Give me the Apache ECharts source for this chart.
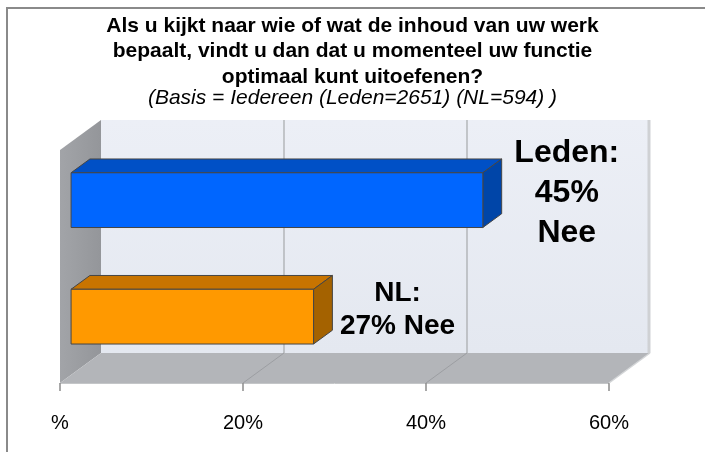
<!DOCTYPE html>
<html>
<head>
<meta charset="utf-8">
<script src="https://cdn.jsdelivr.net/npm/echarts@6/dist/echarts.min.js"></script>
<style>
  html, body { margin: 0; padding: 0; background: #fff; }
  #chart { width: 705px; height: 452px; }
</style>
</head>
<body>
<div id="chart"></div>
<script>
  // data
  const categories = ['Leden', 'NL'];
  const values = [45, 26.5];
  const barLabels = ['Leden:\n45%\nNee', 'NL:\n27% Nee'];
  const xTicks = [0, 20, 40, 60];
  const xTickLabels = ['%', '20%', '40%', '60%'];

  // 3d look: offset of the back wall from the front plane
  const DEPTH = [41, -30];
  const BAR_FRONT = 0.27;
  const BAR_BACK = 0.73;
  const faceColors = [
    { front: '#0066ff', top: '#0050c6', side: '#0045a8' },
    { front: '#ff9900', top: '#c87400', side: '#a46200' }
  ];
  const labelFont = [32, 28];
  const labelLine = [40, 33];
  const FONT = '"Liberation Sans", Arial, sans-serif';

  function shift(p, f) {
    return [p[0] + DEPTH[0] * f, p[1] + DEPTH[1] * f];
  }

  function renderWalls(params, api) {
    const cs = params.coordSys;
    const left = api.coord([xTicks[0], 0])[0];
    const right = api.coord([xTicks[xTicks.length - 1], 0])[0];
    const top = cs.y;
    const bottom = cs.y + cs.height;
    const children = [];

    // back wall
    children.push({
      type: 'polygon',
      shape: { points: [shift([left, top], 1), shift([right, top], 1), shift([right, bottom], 1), shift([left, bottom], 1)] },
      style: {
        fill: new echarts.graphic.LinearGradient(0, 0, 0, 1, [
          { offset: 0, color: '#eceff6' },
          { offset: 1, color: '#e4e8f0' }
        ])
      }
    });
    // left side wall
    children.push({
      type: 'polygon',
      shape: { points: [[left, top], shift([left, top], 1), shift([left, bottom], 1), [left, bottom]] },
      style: {
        fill: new echarts.graphic.LinearGradient(0, 0, 1, 0, [
          { offset: 0, color: '#a2a4a8' },
          { offset: 1, color: '#94969a' }
        ])
      }
    });
    // floor
    children.push({
      type: 'polygon',
      shape: { points: [[left, bottom], shift([left, bottom], 1), shift([right, bottom], 1), [right, bottom]] },
      style: { fill: '#b3b5b9' }
    });
    // right edge of the back wall
    children.push({
      type: 'line',
      shape: { x1: right + DEPTH[0] - 1, y1: top + DEPTH[1], x2: right + DEPTH[0] - 1, y2: bottom + DEPTH[1] },
      style: { stroke: '#cfd1d4', lineWidth: 3 }
    });
    children.push({
      type: 'line',
      shape: { x1: right + DEPTH[0], y1: bottom + DEPTH[1], x2: right, y2: bottom },
      style: { stroke: '#d4d6d8', lineWidth: 1.5 }
    });

    // grid lines on the wall and floor
    xTicks.slice(1, -1).forEach(function (v) {
      const x = api.coord([v, 0])[0];
      const b = shift([x, bottom], 1);
      const t = shift([x, top], 1);
      children.push({
        type: 'line',
        shape: { x1: t[0], y1: t[1], x2: b[0], y2: b[1] },
        style: { stroke: '#a6a8ab', lineWidth: 1.2 }
      });
      children.push({
        type: 'line',
        shape: { x1: b[0], y1: b[1], x2: x, y2: bottom },
        style: { stroke: '#9c9ea2', lineWidth: 1 }
      });
    });

    return { type: 'group', children: children };
  }

  function renderBar(params, api) {
    const i = params.dataIndex;
    const c = faceColors[i];
    const start = api.coord([0, api.value(1)]);
    const end = api.coord([api.value(0), api.value(1)]);
    const h = api.size([0, 1])[1] * 0.47;

    const ftl = shift([start[0], start[1] - h / 2], BAR_FRONT);
    const ftr = shift([end[0], end[1] - h / 2], BAR_FRONT);
    const fbr = shift([end[0], end[1] + h / 2], BAR_FRONT);
    const fbl = shift([start[0], start[1] + h / 2], BAR_FRONT);
    const btl = shift([start[0], start[1] - h / 2], BAR_BACK);
    const btr = shift([end[0], end[1] - h / 2], BAR_BACK);
    const bbr = shift([end[0], end[1] + h / 2], BAR_BACK);

    const edge = { stroke: '#454545', lineWidth: 1, lineJoin: 'round' };
    const mid = shift(end, BAR_FRONT);

    return {
      type: 'group',
      children: [
        { type: 'polygon', shape: { points: [ftl, ftr, btr, btl] }, style: Object.assign({ fill: c.top }, edge) },
        { type: 'polygon', shape: { points: [ftr, btr, bbr, fbr] }, style: Object.assign({ fill: c.side }, edge) },
        { type: 'polygon', shape: { points: [ftl, ftr, fbr, fbl] }, style: Object.assign({ fill: c.front }, edge) },
        {
          type: 'text',
          style: {
            text: barLabels[i],
            x: mid[0] + 84,
            y: mid[1] - 7,
            align: 'center',
            verticalAlign: 'middle',
            fill: '#000',
            font: 'bold ' + labelFont[i] + 'px ' + FONT,
            lineHeight: labelLine[i]
          }
        }
      ]
    };
  }

  const myChart = echarts.init(document.getElementById('chart'));
  const option = {
    animation: false,
    textStyle: { fontFamily: FONT },
    title: {
      text: 'Als u kijkt naar wie of wat de inhoud van uw werk\nbepaalt, vindt u dan dat u momenteel uw functie\noptimaal kunt uitoefenen?',
      subtext: '(Basis = Iedereen (Leden=2651) (NL=594) )',
      left: 'center',
      top: 13,
      padding: 0,
      itemGap: -1,
      textStyle: { fontFamily: FONT, fontSize: 21, fontWeight: 'bold', color: '#000', lineHeight: 25.5 },
      subtextStyle: { fontFamily: FONT, fontSize: 21, fontStyle: 'italic', color: '#000', lineHeight: 20 }
    },
    graphic: [
      {
        type: 'rect',
        shape: { x: 7, y: 8, width: 760, height: 500 },
        style: { fill: 'none', stroke: '#8a8a8a', lineWidth: 2 },
        silent: true
      }
    ],
    grid: { left: 60, right: 96, top: 150, bottom: 69 },
    xAxis: {
      type: 'value',
      min: xTicks[0],
      max: xTicks[xTicks.length - 1],
      interval: 20,
      splitLine: { show: false },
      axisLine: { show: true, lineStyle: { color: '#c4c6c8', width: 1 } },
      axisTick: { show: true, length: 8, lineStyle: { color: '#8c8c8c', width: 1.5 } },
      axisLabel: {
        margin: 30,
        fontSize: 20,
        color: '#000',
        fontFamily: FONT,
        formatter: function (v) { return xTickLabels[xTicks.indexOf(v)]; }
      }
    },
    yAxis: {
      type: 'category',
      data: categories,
      inverse: true,
      show: false
    },
    series: [
      {
        type: 'custom',
        name: 'walls',
        renderItem: renderWalls,
        data: [[0, 0]],
        clip: false,
        silent: true,
        z: 1
      },
      {
        type: 'custom',
        name: 'Nee',
        renderItem: renderBar,
        data: values.map(function (v, i) { return [v, i]; }),
        clip: false,
        z: 3
      }
    ]
  };
  option && myChart.setOption(option);
</script>
</body>
</html>
